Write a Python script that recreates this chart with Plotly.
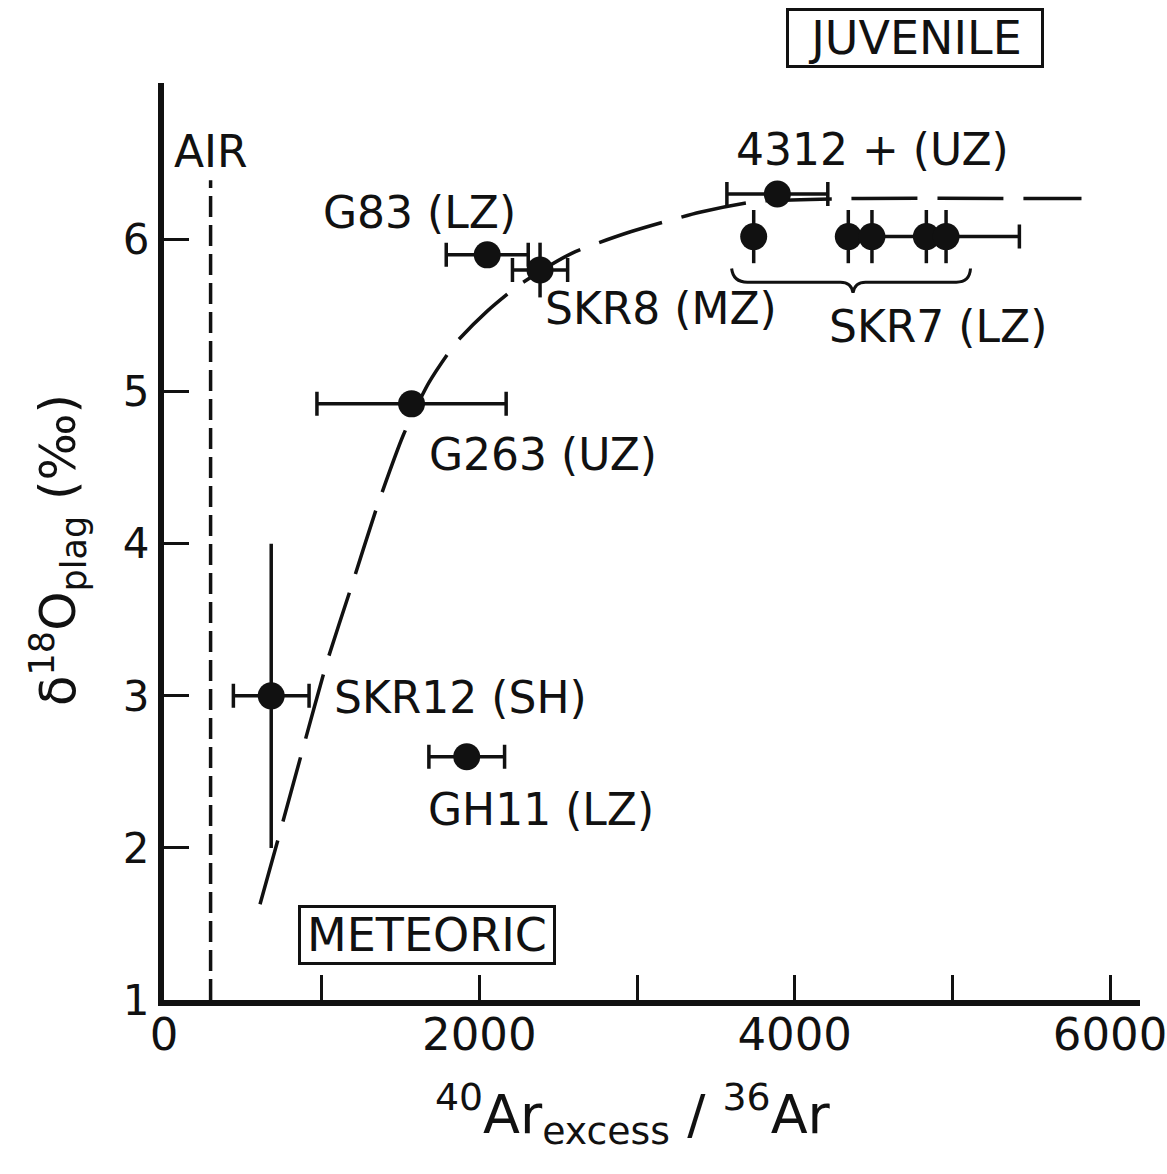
import plotly.graph_objects as go

# ---- data ----
sample_names = ["SKR12 (SH)", "GH11 (LZ)", "G263 (UZ)", "G83 (LZ)", "SKR8 (MZ)",
                "4312 + (UZ)", "SKR7 a", "SKR7 b", "SKR7 c", "SKR7 d", "SKR7 e"]
ar_ratio = [680, 1920, 1570, 2050, 2385, 3890, 3740, 4340, 4490, 4835, 4960]
ar_err = [240, 240, 600, 260, 175, 320, 0, 0, 0, 0, 465]
d18o = [3.0, 2.6, 4.92, 5.9, 5.8, 6.3, 6.02, 6.02, 6.02, 6.02, 6.02]
d18o_err = [1.0, 0, 0, 0, 0.18, 0, 0.175, 0.175, 0.175, 0.175, 0.175]

# dashed mixing curve
curve_x = [609, 735, 875, 1033, 1192, 1350, 1520, 1680, 1850, 2050, 2250, 2586, 2954, 3398, 3750, 4349, 5819]
curve_y = [1.63, 2.10, 2.63, 3.22, 3.73, 4.24, 4.72, 5.06, 5.32, 5.53, 5.70, 5.91, 6.05, 6.18, 6.25, 6.27, 6.27]

air_ratio = 295.5
air_line_y = [1, 6.39]

x_tick_vals = [0, 1000, 2000, 3000, 4000, 5000, 6000]
x_tick_text = ["0", "", "2000", "", "4000", "", "6000"]
y_tick_vals = [1, 2, 3, 4, 5, 6]
y_tick_text = ["1", "2", "3", "4", "5", "6"]

# label texts and positions (data coordinates)
labels = [
    ("AIR", 295.5, 6.58),
    ("4312 + (UZ)", 4495, 6.59),
    ("G83 (LZ)", 1623, 6.18),
    ("SKR8 (MZ)", 3151, 5.55),
    ("SKR7 (LZ)", 4907, 5.43),
    ("G263 (UZ)", 2403, 4.59),
    ("SKR12 (SH)", 1883, 2.99),
    ("GH11 (LZ)", 2390, 2.25),
]
meteoric_label = ("METEORIC", 1667, 1.43)
juvenile_label = ("JUVENILE", 915, 38)   # placed above the plot area (pixels)

FONT = "DejaVu Sans"
BLACK = "#111111"

L, R, T, B = 164, 27, 83, 174
W, H = 1167, 1174
pw, ph = W - L - R, H - T - B

def px_to_paper(px, py):
    return (px - L) / pw, (H - B - py) / ph

fig = go.Figure()

fig.add_trace(go.Scatter(
    x=curve_x, y=curve_y, mode="lines",
    line=dict(color=BLACK, width=3.5, dash="66px,20px", shape="spline", smoothing=0.6),
    hoverinfo="skip", showlegend=False))

fig.add_trace(go.Scatter(
    x=[air_ratio, air_ratio], y=air_line_y, mode="lines",
    line=dict(color=BLACK, width=3.5, dash="21px,8px"),
    hoverinfo="skip", showlegend=False))

fig.add_trace(go.Scatter(
    x=ar_ratio, y=d18o, mode="markers", text=sample_names,
    marker=dict(color=BLACK, size=27, line=dict(width=0)),
    error_x=dict(type="data", array=ar_err, symmetric=True, color=BLACK, thickness=3.5, width=12),
    error_y=dict(type="data", array=d18o_err, symmetric=True, color=BLACK, thickness=3.5, width=0),
    showlegend=False))

# curly brace under SKR7 group
bl, br, bt = 3600, 5115, 4370
ytop, ymid, ybot = 5.81, 5.72, 5.65
brace = (f"M {bl},{ytop} Q {bl+10},{ymid} {bl+100},{ymid} L {bt-80},{ymid} "
         f"Q {bt-10},{ymid} {bt},{ybot} Q {bt+10},{ymid} {bt+80},{ymid} "
         f"L {br-90},{ymid} Q {br-5},{ymid} {br},{ytop}")
fig.add_shape(type="path", path=brace, xref="x", yref="y",
              line=dict(color=BLACK, width=3))

for txt, x, y in labels:
    fig.add_annotation(x=x, y=y, xref="x", yref="y", text=txt, showarrow=False,
                       font=dict(family=FONT, size=44, color=BLACK))

box_style = dict(showarrow=False, font=dict(family=FONT, size=46, color=BLACK),
                 bordercolor=BLACK, borderwidth=3, borderpad=1,
                 width=250, height=52, bgcolor="white",
                 xanchor="center", yanchor="middle")
fig.add_annotation(x=meteoric_label[1], y=meteoric_label[2], xref="x", yref="y",
                   text=meteoric_label[0], **box_style)
jx, jy = px_to_paper(juvenile_label[1], juvenile_label[2])
fig.add_annotation(x=jx, y=jy, xref="paper", yref="paper",
                   text=juvenile_label[0], **box_style)

# axis titles
xt_x, xt_y = px_to_paper(633, 1114)
fig.add_annotation(x=xt_x, y=xt_y, xref="paper", yref="paper", showarrow=False,
                   xanchor="center", yanchor="middle",
                   text="<sup>40</sup>Ar<sub>excess</sub> / <sup>36</sup>Ar",
                   font=dict(family=FONT, size=54, color=BLACK))
yt_x, yt_y = px_to_paper(58, 550)
fig.add_annotation(x=yt_x, y=yt_y, xref="paper", yref="paper", showarrow=False,
                   xanchor="center", yanchor="middle", textangle=-90,
                   text="δ<sup>18</sup>O<sub>plag</sub> (‰)",
                   font=dict(family=FONT, size=50, color=BLACK))

fig.update_layout(
    width=W, height=H,
    margin=dict(l=L, r=R, t=T, b=B, pad=0, autoexpand=False),
    paper_bgcolor="white", plot_bgcolor="white",
    xaxis=dict(range=[0, 6190], showgrid=False, zeroline=False,
               showline=True, linecolor=BLACK, linewidth=6,
               ticks="inside", ticklen=25, tickwidth=2.5, tickcolor=BLACK,
               tickvals=x_tick_vals, ticktext=x_tick_text,
               tickfont=dict(family=FONT, size=45, color=BLACK),
               ticklabeloverflow="allow", ticklabelstandoff=-10),
    yaxis=dict(range=[1, 7.03], showgrid=False, zeroline=False,
               showline=True, linecolor=BLACK, linewidth=6,
               ticks="inside", ticklen=25, tickwidth=2.5, tickcolor=BLACK,
               tickvals=y_tick_vals, ticktext=y_tick_text,
               tickfont=dict(family=FONT, size=42, color=BLACK),
               ticklabelstandoff=0),
)

fig.write_html("out.html")
